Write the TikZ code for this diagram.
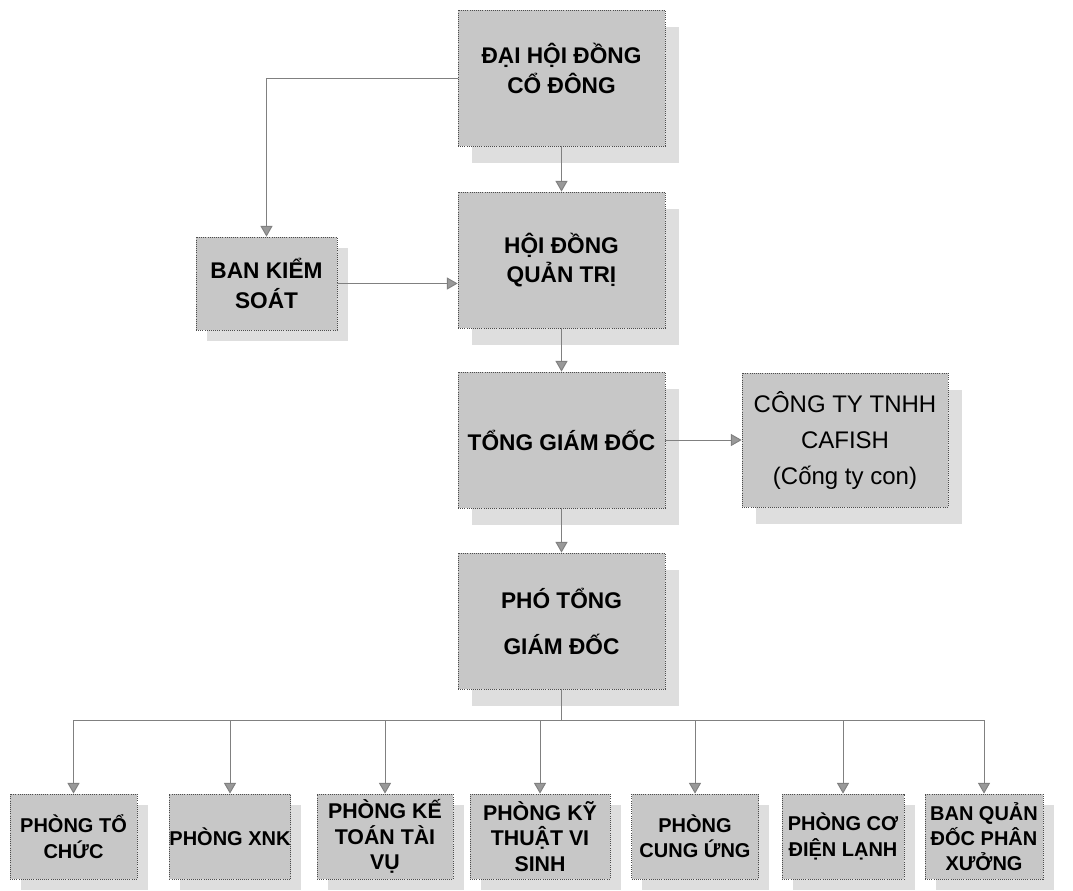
\documentclass[tikz,border=0pt]{standalone}
\usepackage{fontspec}
\setmainfont{Liberation Sans}
\usetikzlibrary{arrows.meta,shadows,calc}
\begin{document}
\begin{tikzpicture}[x=0.75pt,y=-0.75pt,
  boxbase/.style={draw=black!70, densely dotted, line width=0.6pt, fill=black!22,
    align=center, inner sep=0pt},
  bigshadow/.style={drop shadow={shadow xshift=10.5pt, shadow yshift=-13pt, fill=black!13, opacity=1}},
  smallshadow/.style={drop shadow={shadow xshift=8pt, shadow yshift=-8pt, fill=black!13, opacity=1}},
  mainbox/.style={boxbase, bigshadow, minimum width=155.25pt, minimum height=102pt,
    font=\fontsize{17}{21.5}\selectfont\bfseries},
  sidebox/.style={boxbase, smallshadow, minimum width=105.75pt, minimum height=69.75pt,
    font=\fontsize{17}{22}\selectfont\bfseries},
  subbox/.style={boxbase, bigshadow, minimum width=154.5pt, minimum height=100.5pt,
    font=\fontsize{18}{27}\selectfont},
  deptbox/.style={boxbase, smallshadow, minimum height=63.75pt,
    font=\fontsize{15}{19}\selectfont\bfseries},
  link/.style={draw=black!50, line width=0.7pt},
  arr/.style={link, -{Triangle[length=8pt,width=9pt,fill=black!40]}}
]
\useasboundingbox (0,0) rectangle (1073,890);

% top chain
\node[mainbox, label={[font=\fontsize{17}{22.5}\selectfont\bfseries, align=center, yshift=7.5pt]center:ĐẠI HỘI ĐỒNG\\CỔ ĐÔNG}] (dhd) at (561.5,78) {};
\node[mainbox] (hdqt) at (561.5,260) {HỘI ĐỒNG\\QUẢN TRỊ};
\node[sidebox] (bks) at (266.5,283.5) {BAN KIỂM\\SOÁT};
\node[mainbox] (tgd) at (561.5,440) {TỔNG GIÁM ĐỐC};
\node[subbox] (caf) at (845,440) {CÔNG TY TNHH\\CAFISH\\(Cống ty con)};
\node[mainbox, font=\fontsize{17}{34.5}\selectfont\bfseries] (ptgd) at (561.5,621) {PHÓ TỔNG\\GIÁM ĐỐC};

% departments
\node[deptbox, minimum width=95.25pt] (b1) at (73.5,836.5) {PHÒNG TỔ\\CHỨC};
\node[deptbox, minimum width=90pt] (b2) at (230,836.5) {PHÒNG XNK};
\node[deptbox, minimum width=102pt, font=\fontsize{16}{19}\selectfont\bfseries] (b3) at (385,836.5) {PHÒNG KẾ\\TOÁN TÀI\\VỤ};
\node[deptbox, minimum width=105pt, font=\fontsize{16}{19}\selectfont\bfseries] (b4) at (540,836.5) {PHÒNG KỸ\\THUẬT VI\\SINH};
\node[deptbox, minimum width=95.25pt] (b5) at (695,836.5) {PHÒNG\\CUNG ỨNG};
\node[deptbox, minimum width=91.5pt] (b6) at (843,836.5) {PHÒNG CƠ\\ĐIỆN LẠNH};
\node[deptbox, minimum width=88.5pt] (b7) at (984,836.5) {BAN QUẢN\\ĐỐC PHÂN\\XƯỞNG};

% connectors
\draw[arr] (dhd.south) -- (hdqt.north);
\draw[arr] (dhd.west) -| (bks.north);
\draw[arr] (bks.east) -- (bks.east -| hdqt.west);
\draw[arr] (hdqt.south) -- (tgd.north);
\draw[arr] (tgd.east) -- (caf.west);
\draw[arr] (tgd.south) -- (ptgd.north);

\coordinate (bus) at (561.5,720);
\draw[link] (ptgd.south) -- (bus);
\draw[link] (b1.north |- bus) -- (b7.north |- bus);
\foreach \b in {b1,b2,b3,b4,b5,b6,b7}
  \draw[arr] (\b.north |- bus) -- (\b.north);
\end{tikzpicture}
\end{document}
